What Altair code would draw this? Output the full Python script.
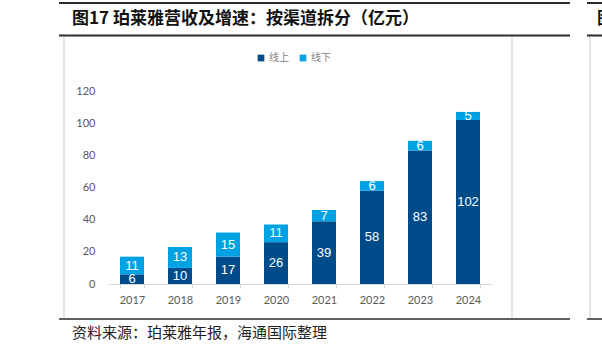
import altair as alt
import pandas as pd

years = ["2017", "2018", "2019", "2020", "2021", "2022", "2023", "2024"]
online = [6, 10, 17, 26, 39, 58, 83, 102]
offline = [11, 13, 15, 11, 7, 6, 6, 5]
series = ["线上", "线下"]
colors = ["#004C8B", "#00A2E3"]
y_ticks = [0, 20, 40, 60, 80, 100, 120]
title_text = "图17 珀莱雅营收及增速：按渠道拆分（亿元）"
source_text = "资料来源：珀莱雅年报，海通国际整理"

rows = []
for i, yr in enumerate(years):
    rows.append({"year": yr, "series": series[0], "value": online[i], "ord": 0})
    rows.append({"year": yr, "series": series[1], "value": offline[i], "ord": 1})
df = pd.DataFrame(rows)

W, H = 384, 193
base = alt.Chart(df).transform_stack(
    stack="value", groupby=["year"], as_=["v0", "v1"], sort=[alt.SortField("ord")]
)

x_axis = alt.Axis(labelAngle=0, labelFont="Lato", labelFontSize=11,
                  labelColor="#595959", labelPadding=6,
                  domainColor="#D9D9D9", tickColor="#D9D9D9",
                  tickBand="extent", tickSize=4, grid=False, title=None)
y_axis = alt.Axis(values=y_ticks, labelFont="Lato", labelFontSize=11,
                  labelColor="#595959", labelPadding=13, labelOverlap=False,
                  domain=False, ticks=False, grid=False, title=None)
x_scale = alt.Scale(paddingInner=0.5, paddingOuter=0.25)
y_scale = alt.Scale(domain=[0, 120], nice=False)

bars = base.mark_bar().encode(
    x=alt.X("year:N", sort=years, scale=x_scale, axis=x_axis),
    y=alt.Y("v0:Q", scale=y_scale, axis=y_axis),
    y2="v1:Q",
    color=alt.Color("series:N", scale=alt.Scale(domain=series, range=colors),
                    legend=alt.Legend(title=None, orient="none", legendX=148, legendY=-38,
                                      direction="horizontal", symbolType="square",
                                      symbolSize=45, symbolStrokeWidth=0,
                                      labelFont="Noto Sans CJK SC", labelFontSize=10,
                                      labelColor="#7F7F7F", labelOffset=3,
                                      columnPadding=9)),
)

labels = base.transform_calculate(mid="(datum.v0 + datum.v1) / 2").mark_text(
    color="white", font="Liberation Sans", fontSize=13, baseline="middle"
).encode(
    x=alt.X("year:N", sort=years, scale=x_scale, axis=x_axis),
    y=alt.Y("mid:Q", scale=y_scale, axis=y_axis),
    text=alt.Text("value:Q"),
)

one = pd.DataFrame({"a": [0]})
dark = "#2B2B2B"
gray = "#E3E3E3"

def hrule(x1, x2, y, color, w):
    return alt.Chart(one).mark_rule(color=color, strokeWidth=w).encode(
        x=alt.value(x1), x2=alt.value(x2), y=alt.value(y))

def vrule(x, y1, y2, color, w):
    return alt.Chart(one).mark_rule(color=color, strokeWidth=w).encode(
        x=alt.value(x), y=alt.value(y1), y2=alt.value(y2))

frame = [
    hrule(-49, 462, -88, dark, 2),
    hrule(-49, 462, -55.5, dark, 2),
    hrule(-49, 462, 228, dark, 1.5),
    vrule(-44, -54, 227, gray, 2),
    vrule(404, -54, 227, gray, 2),
    hrule(479, 500, -88, dark, 2),
    hrule(479, 500, -55.5, dark, 2),
    hrule(479, 500, 228, dark, 1.5),
    vrule(482, -54, 227, gray, 2),
]

title = alt.Chart(one).mark_text(
    text=title_text, align="left", baseline="middle", font="Noto Sans CJK SC",
    fontSize=17, fontWeight="bold", color="#111111"
).encode(x=alt.value(-36), y=alt.value(-72))

title2 = alt.Chart(one).mark_text(
    text="图18", align="left", baseline="middle", font="Noto Sans CJK SC",
    fontSize=17, fontWeight="bold", color="#111111"
).encode(x=alt.value(489), y=alt.value(-72))

source = alt.Chart(one).mark_text(
    text=source_text, align="left", baseline="middle", font="Noto Sans CJK SC",
    fontSize=15, color="#222222"
).encode(x=alt.value(-36), y=alt.value(242))

chart = alt.layer(*frame, bars, labels, title, title2, source).properties(
    width=W, height=H,
    padding={"left": 108, "top": 91, "right": 110, "bottom": 70},
    autosize=alt.AutoSizeParams(type="none"),
).configure_view(stroke="transparent", strokeWidth=0).configure(
    background="white", style={"cell": {"stroke": "transparent", "strokeWidth": 0}}
)

chart.save("out.html", embed_options={"renderer": "svg", "actions": False})
